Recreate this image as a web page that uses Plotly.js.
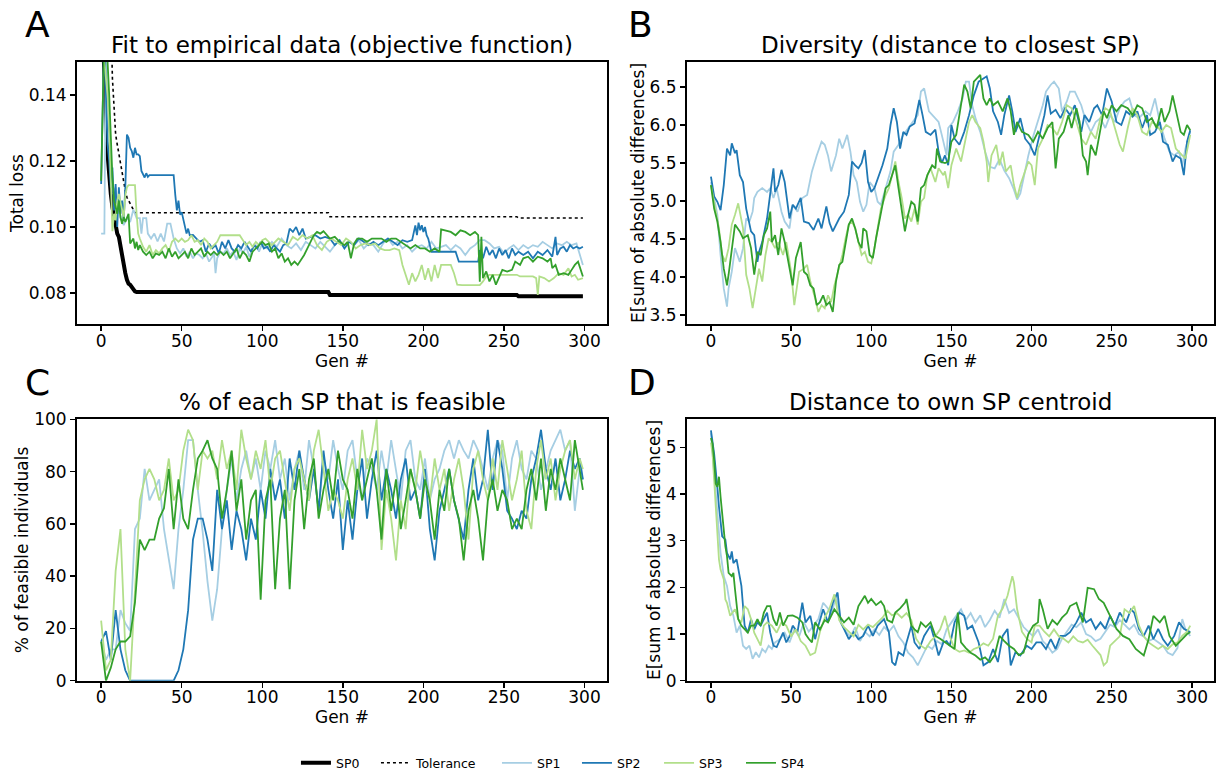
<!DOCTYPE html>
<html><head><meta charset="utf-8">
<script src="https://cdn.plot.ly/plotly-3.0.1.min.js"></script>
<style>html,body{margin:0;padding:0;background:#fff}#chart{width:1225px;height:774px}</style>
</head><body><div id="chart"></div>
<script>
// ---------- Panel A: Fit to empirical data (total loss) ----------
const A_SP0 = [[0,0.17],[2,0.15],[3,0.135],[4,0.122],[5,0.115],[6,0.11],[7,0.106],[8,0.103],[9,0.100],[10,0.098],[11,0.097],[12,0.094],[13,0.091],[14,0.088],[15,0.086],[16,0.084],[17,0.0828],[18,0.0825],[19,0.0818],[20,0.0812],[21,0.0805],[22,0.0803],[141,0.0803],[142,0.0794],[258,0.0794],[259,0.0790],[299,0.0790]];
const A_TOL = [[0,0.22],[6,0.165],[7,0.145],[8,0.135],[9,0.128],[10,0.125],[11,0.122],[12,0.120],[13,0.117],[14,0.113],[15,0.111],[16,0.109],[17,0.108],[18,0.107],[19,0.1065],[20,0.105],[21,0.1043],[141,0.1043],[142,0.1031],[258,0.1031],[259,0.1027],[299,0.1027]];
const A_SP1 = [[0,0.098],[1,0.098],[2,0.098],[3,0.16],[4,0.13],[5,0.125],[6,0.12],[7,0.115],[8,0.11],[9,0.112],[10,0.104],[11,0.108],[12,0.1027],[14,0.1006],[16,0.1027],[18,0.1015],[20,0.1053],[22,0.1027],[24,0.1027],[25,0.098],[26,0.1027],[28,0.1027],[29,0.098],[31,0.0965],[33,0.098],[35,0.0956],[37,0.098],[39,0.0956],[41,0.101],[43,0.101],[45,0.0965],[47,0.0935],[49,0.092],[51,0.0935],[53,0.091],[55,0.0925],[57,0.0905],[59,0.092],[61,0.0915],[63,0.0905],[65,0.092],[67,0.0895],[69,0.091],[70,0.0925],[71,0.086],[72,0.0905],[74,0.0925],[76,0.092],[78,0.0935],[80,0.0915],[82,0.0925],[84,0.090],[86,0.0935],[88,0.092],[90,0.094],[92,0.091],[94,0.0935],[96,0.0945],[98,0.0925],[100,0.095],[103,0.0935],[106,0.0955],[109,0.094],[112,0.0965],[115,0.0945],[118,0.0935],[121,0.095],[124,0.093],[127,0.0955],[130,0.0945],[133,0.0935],[136,0.0955],[139,0.094],[142,0.0925],[145,0.0945],[148,0.096],[151,0.0935],[154,0.0955],[157,0.0945],[160,0.096],[163,0.0935],[166,0.095],[169,0.0945],[172,0.0925],[175,0.095],[178,0.0965],[181,0.0945],[184,0.0955],[187,0.0935],[190,0.0945],[193,0.0925],[196,0.094],[199,0.0945],[202,0.0935],[205,0.0955],[208,0.0935],[211,0.094],[214,0.0945],[217,0.093],[220,0.0945],[223,0.0935],[226,0.0915],[229,0.0935],[232,0.0945],[235,0.096],[238,0.096],[241,0.095],[244,0.0935],[247,0.094],[250,0.092],[253,0.0935],[256,0.0945],[259,0.093],[262,0.0945],[265,0.0935],[268,0.0945],[271,0.094],[274,0.0955],[277,0.0945],[280,0.0935],[283,0.095],[286,0.0945],[289,0.0955],[292,0.0945],[295,0.095],[297,0.092],[299,0.0885]];
const A_SP2 = [[0,0.113],[1,0.16],[2,0.16],[3,0.14],[4,0.125],[5,0.12],[6,0.112],[7,0.118],[8,0.105],[9,0.113],[10,0.10],[11,0.112],[12,0.104],[13,0.108],[14,0.102],[15,0.112],[16,0.128],[17,0.127],[18,0.124],[19,0.123],[20,0.121],[21,0.124],[22,0.122],[23,0.122],[24,0.1215],[25,0.117],[26,0.1158],[27,0.115],[28,0.1163],[29,0.1152],[30,0.1157],[45,0.1157],[46,0.1098],[47,0.105],[48,0.108],[49,0.1037],[50,0.1045],[51,0.102],[52,0.100],[53,0.098],[54,0.0995],[55,0.0975],[57,0.0976],[59,0.0965],[61,0.0955],[63,0.096],[65,0.0925],[67,0.095],[69,0.0935],[71,0.0945],[73,0.092],[75,0.0955],[77,0.0935],[79,0.096],[81,0.0935],[83,0.0925],[85,0.0945],[87,0.0935],[89,0.0955],[91,0.094],[93,0.0925],[95,0.0945],[97,0.0935],[99,0.0955],[101,0.0935],[103,0.094],[105,0.0925],[107,0.0945],[109,0.0935],[111,0.0925],[113,0.0945],[115,0.095],[117,0.0995],[119,0.0985],[121,0.1],[123,0.0975],[125,0.0995],[127,0.0965],[130,0.097],[133,0.0975],[136,0.0965],[139,0.097],[142,0.0965],[145,0.0945],[148,0.096],[151,0.0935],[154,0.0955],[157,0.0945],[160,0.0965],[163,0.0955],[166,0.0945],[169,0.0955],[172,0.0945],[175,0.0955],[178,0.0965],[181,0.0955],[184,0.0945],[187,0.096],[190,0.0955],[193,0.096],[195,0.1005],[196,0.0975],[197,0.1013],[198,0.099],[199,0.1005],[200,0.0985],[201,0.1],[202,0.0975],[203,0.0965],[205,0.0925],[210,0.0925],[215,0.0925],[220,0.0925],[222,0.0895],[228,0.0895],[234,0.0895],[235,0.093],[237,0.0905],[239,0.094],[241,0.0915],[243,0.093],[245,0.0905],[247,0.0935],[249,0.0915],[251,0.093],[253,0.0905],[255,0.0935],[257,0.0915],[259,0.0925],[262,0.0915],[265,0.0925],[268,0.0905],[271,0.0925],[274,0.0915],[277,0.093],[280,0.091],[282,0.097],[283,0.0915],[285,0.0935],[287,0.094],[289,0.0925],[291,0.0945],[293,0.0935],[295,0.094],[297,0.0935],[299,0.094]];
const A_SP3 = [[0,0.16],[1,0.16],[2,0.15],[3,0.145],[4,0.14],[5,0.13],[6,0.11],[7,0.0987],[8,0.104],[9,0.102],[10,0.108],[11,0.11],[12,0.1075],[13,0.105],[14,0.103],[15,0.1095],[16,0.112],[17,0.1127],[19,0.1127],[21,0.1127],[22,0.104],[23,0.098],[24,0.0965],[26,0.094],[28,0.0925],[30,0.0945],[32,0.0915],[34,0.093],[36,0.092],[38,0.0935],[40,0.0945],[42,0.0925],[44,0.0955],[46,0.0965],[48,0.0955],[50,0.0965],[52,0.0955],[54,0.096],[56,0.0975],[58,0.0955],[60,0.096],[62,0.0945],[64,0.0965],[66,0.0955],[68,0.0935],[70,0.0945],[72,0.0955],[74,0.0975],[78,0.0975],[82,0.0975],[86,0.0975],[88,0.096],[90,0.0945],[92,0.0955],[94,0.094],[96,0.0955],[98,0.0945],[100,0.096],[102,0.0965],[104,0.0955],[106,0.0945],[108,0.0955],[110,0.0965],[113,0.0955],[116,0.0945],[119,0.097],[122,0.096],[125,0.0975],[128,0.0965],[131,0.0975],[134,0.0945],[137,0.093],[140,0.0955],[143,0.0965],[146,0.0955],[149,0.0945],[152,0.0965],[155,0.0955],[158,0.0935],[161,0.0945],[164,0.095],[167,0.0945],[170,0.095],[173,0.0935],[176,0.093],[179,0.093],[182,0.0935],[185,0.093],[187,0.0885],[189,0.0855],[191,0.0825],[193,0.086],[195,0.0835],[197,0.0855],[199,0.0885],[201,0.084],[203,0.0875],[205,0.0835],[207,0.0885],[209,0.0845],[211,0.0885],[214,0.0885],[217,0.0885],[219,0.086],[221,0.0825],[224,0.0824],[228,0.0824],[232,0.0824],[235,0.0824],[237,0.0835],[239,0.085],[241,0.0855],[245,0.0855],[250,0.0855],[254,0.0855],[258,0.0855],[260,0.085],[264,0.085],[268,0.085],[270,0.0845],[271,0.0794],[272,0.085],[275,0.0845],[278,0.0835],[281,0.0845],[284,0.086],[287,0.0855],[290,0.0875],[292,0.085],[294,0.0855],[296,0.084],[299,0.0845]];
const A_SP4 = [[0,0.114],[1,0.16],[2,0.16],[3,0.155],[4,0.15],[5,0.14],[6,0.125],[7,0.115],[8,0.108],[9,0.106],[10,0.104],[11,0.108],[12,0.103],[13,0.101],[14,0.103],[15,0.1015],[16,0.103],[17,0.104],[18,0.095],[19,0.096],[20,0.0965],[21,0.0935],[22,0.0955],[23,0.093],[24,0.0945],[26,0.0925],[28,0.0915],[30,0.0925],[32,0.0905],[34,0.092],[36,0.0915],[38,0.0925],[40,0.0905],[42,0.0935],[44,0.091],[46,0.0925],[48,0.0905],[50,0.0915],[52,0.0925],[54,0.0905],[56,0.0935],[58,0.0915],[60,0.0925],[62,0.0935],[64,0.091],[66,0.0925],[68,0.0915],[70,0.0925],[72,0.0915],[74,0.0925],[76,0.0915],[78,0.0925],[80,0.0905],[82,0.092],[84,0.0935],[86,0.0905],[88,0.0925],[90,0.0915],[92,0.0895],[94,0.0925],[96,0.0935],[98,0.0945],[100,0.0955],[102,0.0945],[104,0.095],[106,0.0925],[108,0.0935],[110,0.0905],[112,0.092],[114,0.0895],[116,0.0905],[118,0.0885],[120,0.0895],[122,0.0885],[124,0.09],[126,0.0915],[128,0.0935],[130,0.0955],[132,0.0975],[134,0.0985],[136,0.098],[138,0.0987],[140,0.0975],[142,0.0965],[145,0.097],[148,0.0955],[151,0.0945],[153,0.0955],[155,0.0905],[157,0.095],[159,0.0965],[162,0.0965],[165,0.0955],[168,0.0965],[171,0.0965],[174,0.0965],[177,0.0955],[180,0.0965],[183,0.0965],[186,0.0955],[189,0.0945],[192,0.0935],[195,0.0945],[198,0.0935],[201,0.0935],[204,0.0925],[207,0.0935],[210,0.0925],[211,0.0993],[214,0.099],[217,0.0985],[220,0.0975],[223,0.099],[226,0.0985],[229,0.0975],[232,0.0985],[234,0.0975],[235,0.0834],[236,0.097],[237,0.0845],[239,0.0865],[241,0.0835],[243,0.0855],[245,0.0825],[247,0.0845],[249,0.087],[252,0.0865],[255,0.087],[257,0.0895],[260,0.0885],[262,0.0905],[265,0.091],[268,0.0895],[271,0.091],[274,0.0905],[277,0.0895],[279,0.0905],[280,0.0875],[282,0.0885],[284,0.0855],[287,0.086],[290,0.0855],[292,0.087],[294,0.0885],[296,0.0895],[298,0.086],[299,0.085]];

// ---------- Panel B: Diversity (distance to closest SP) ----------
const B_SP1 = [[0,5.25],[2,5.04],[4,4.82],[6,4.29],[8,3.85],[10,3.61],[11,3.85],[13,4.07],[15,4.38],[18,4.20],[20,4.38],[22,4.77],[24,4.73],[26,4.86],[27,5.04],[29,5.12],[32,5.17],[35,5.12],[37,5.17],[39,5.04],[41,5.17],[44,4.86],[46,4.73],[49,4.64],[51,4.95],[54,4.86],[57,5.04],[60,5.08],[63,5.39],[66,5.60],[69,5.78],[71,5.74],[73,5.60],[75,5.39],[78,5.60],[80,5.82],[82,5.69],[85,5.87],[87,5.65],[89,5.34],[91,5.25],[93,4.99],[95,4.86],[97,4.95],[99,5.25],[102,5.17],[104,4.99],[106,4.95],[109,5.17],[112,5.39],[114,5.65],[117,5.74],[120,5.87],[123,5.96],[126,6.04],[129,6.13],[131,6.44],[133,6.48],[136,6.18],[138,6.13],[142,6.04],[144,5.87],[147,5.60],[148,5.96],[151,6.04],[154,6.18],[157,6.35],[159,6.57],[161,6.57],[163,6.26],[165,6.09],[168,5.91],[171,5.65],[174,5.45],[177,5.43],[180,5.55],[183,5.40],[186,5.30],[189,5.15],[191,5.02],[193,5.10],[195,5.30],[198,5.60],[201,5.85],[204,6.04],[207,6.26],[209,6.44],[212,6.53],[214,6.57],[217,6.48],[219,6.18],[222,6.31],[224,6.44],[227,6.44],[231,6.26],[234,6.04],[237,5.91],[240,6.04],[243,6.09],[246,5.96],[249,6.13],[252,6.04],[255,6.22],[258,6.31],[261,6.35],[264,6.13],[267,6.09],[271,6.18],[274,6.13],[277,6.35],[280,6.04],[283,5.82],[286,5.65],[289,5.60],[292,5.65],[294,5.47],[296,5.69],[299,5.91]];
const B_SP2 = [[0,5.32],[2,5.06],[4,4.99],[6,4.88],[8,5.21],[10,5.69],[12,5.60],[13,5.76],[15,5.63],[16,5.67],[18,5.34],[20,5.25],[22,4.90],[25,4.60],[27,4.55],[29,4.20],[30,4.33],[32,4.46],[35,4.77],[37,5.08],[39,5.43],[40,5.12],[42,5.21],[44,5.41],[46,5.25],[49,4.77],[51,4.95],[53,4.90],[56,5.04],[58,4.73],[61,4.71],[64,4.62],[67,4.77],[69,4.64],[72,4.93],[74,4.71],[76,4.60],[80,4.77],[83,4.86],[86,5.08],[88,5.52],[90,5.47],[92,5.43],[94,5.50],[96,5.67],[98,5.25],[100,5.12],[102,5.17],[104,5.28],[107,5.47],[110,5.69],[112,6.00],[114,6.22],[116,6.04],[118,5.69],[120,5.91],[122,5.87],[124,5.98],[127,6.02],[130,6.33],[132,6.13],[134,5.91],[137,5.87],[140,5.94],[142,5.65],[144,5.50],[146,5.60],[148,5.47],[150,6.00],[152,5.82],[155,5.74],[158,5.91],[161,6.13],[164,6.39],[167,6.57],[170,6.61],[172,6.64],[174,6.48],[176,6.18],[179,6.04],[181,5.87],[183,6.13],[186,6.39],[188,6.18],[190,5.91],[193,6.09],[196,5.82],[199,5.74],[202,5.60],[205,5.87],[208,6.13],[210,6.39],[212,6.15],[215,6.20],[218,6.09],[221,6.22],[224,6.13],[227,6.26],[231,5.91],[233,6.13],[236,6.04],[239,6.22],[241,6.26],[244,6.13],[247,6.48],[250,6.31],[253,6.04],[256,6.00],[259,6.18],[263,6.11],[266,6.18],[269,5.96],[272,6.13],[274,5.87],[277,5.91],[280,6.04],[282,5.78],[285,5.74],[288,5.52],[290,5.60],[293,5.56],[295,5.34],[297,5.78],[299,5.93]];
const B_SP3 = [[0,5.21],[2,4.99],[5,4.64],[7,4.29],[9,4.20],[11,4.38],[13,4.69],[15,4.82],[17,4.97],[20,4.64],[22,4.03],[24,3.85],[26,3.59],[28,3.85],[30,4.11],[32,3.94],[34,4.29],[36,4.51],[38,4.46],[40,4.38],[42,4.46],[45,4.29],[47,4.46],[50,4.07],[52,3.63],[55,4.07],[58,4.11],[60,4.16],[62,3.94],[65,3.72],[67,3.54],[69,3.63],[71,3.59],[73,3.76],[75,3.67],[77,3.89],[80,4.11],[82,4.29],[84,4.51],[86,4.69],[88,4.73],[90,4.64],[92,4.46],[94,4.29],[96,4.33],[98,4.20],[100,4.18],[102,4.38],[104,4.64],[106,4.90],[109,5.08],[111,5.17],[113,5.34],[115,5.52],[117,5.25],[119,5.04],[121,4.77],[123,4.82],[125,4.73],[127,4.90],[129,4.69],[131,4.99],[133,5.04],[135,5.34],[137,5.43],[140,5.25],[142,5.43],[145,5.34],[146,5.39],[148,5.17],[150,5.47],[153,5.69],[156,5.52],[158,5.74],[161,6.04],[163,6.13],[165,6.04],[168,5.96],[170,5.78],[172,5.52],[173,5.25],[175,5.60],[178,5.74],[180,5.47],[182,5.65],[184,5.39],[187,5.47],[189,5.21],[191,5.04],[193,5.21],[195,5.34],[198,5.52],[200,5.47],[202,5.21],[204,5.69],[207,5.82],[210,6.00],[213,5.96],[216,5.87],[219,6.04],[222,6.26],[225,6.22],[228,6.04],[231,5.82],[234,5.74],[237,5.91],[240,5.82],[243,6.09],[246,6.22],[249,6.18],[252,5.96],[255,5.74],[257,5.65],[260,5.96],[263,6.22],[266,6.13],[269,5.91],[272,5.87],[275,6.04],[278,6.00],[281,5.91],[284,6.00],[287,5.96],[290,5.69],[294,5.60],[296,5.56],[299,5.87]];
const B_SP4 = [[0,5.21],[2,4.90],[4,4.73],[6,4.46],[8,4.11],[10,3.89],[11,4.03],[13,4.38],[15,4.69],[18,4.60],[20,4.51],[23,4.55],[25,4.38],[27,4.03],[29,4.33],[31,4.29],[33,4.55],[35,4.64],[37,4.86],[38,4.46],[40,4.55],[42,4.29],[44,4.64],[46,4.46],[49,4.11],[51,3.89],[53,4.25],[56,4.46],[58,4.07],[60,4.03],[62,3.89],[64,3.85],[66,3.63],[68,3.67],[70,3.76],[72,3.63],[74,3.67],[76,3.54],[78,3.94],[80,4.16],[82,4.20],[84,4.46],[86,4.69],[88,4.77],[90,4.64],[92,4.46],[94,4.38],[95,4.64],[97,4.60],[99,4.29],[101,4.25],[103,4.51],[106,4.86],[109,5.17],[111,5.21],[113,5.34],[115,5.47],[117,5.17],[119,4.86],[121,4.60],[123,4.82],[125,4.99],[127,4.95],[129,4.73],[131,5.17],[133,5.21],[135,5.34],[138,5.47],[140,5.43],[141,5.69],[143,5.52],[146,5.50],[148,5.52],[150,5.78],[153,5.87],[156,6.26],[158,6.53],[160,6.44],[162,6.22],[164,6.57],[168,6.66],[170,6.35],[172,6.26],[174,6.35],[176,6.26],[179,6.31],[182,6.18],[185,6.35],[187,6.18],[189,5.87],[191,6.04],[194,5.91],[198,5.87],[201,5.78],[204,5.91],[207,5.82],[210,5.96],[213,6.04],[215,5.43],[217,5.82],[220,5.91],[223,6.13],[225,5.96],[228,6.22],[230,6.04],[232,5.60],[234,5.52],[235,5.34],[237,5.74],[240,5.60],[242,5.82],[245,6.18],[247,6.09],[250,6.26],[253,6.18],[256,6.26],[260,6.22],[263,6.13],[266,6.26],[269,6.22],[272,6.04],[275,6.09],[278,5.96],[281,6.22],[283,6.04],[286,6.18],[288,6.39],[290,6.18],[293,5.91],[295,5.87],[297,6.00],[299,5.93]];

// ---------- Panel C: % of each SP that is feasible ----------
const C_SP1 = [[0,15],[3,8],[6,12],[9,12],[12,27],[15,22],[18,19],[21,58],[24,62],[27,81],[30,69],[33,73],[36,77],[39,58],[42,46],[45,35],[48,58],[51,73],[54,92],[57,92],[60,73],[63,57],[66,38],[69,23],[72,35],[75,58],[78,73],[81,85],[84,69],[87,81],[90,88],[93,77],[96,85],[99,73],[102,88],[105,81],[108,92],[111,77],[114,85],[117,69],[120,81],[123,88],[126,73],[129,92],[132,81],[135,65],[138,85],[141,77],[144,92],[147,81],[150,73],[153,88],[156,92],[159,77],[162,69],[165,85],[168,81],[171,73],[174,88],[177,77],[180,92],[183,81],[186,69],[189,88],[192,92],[195,77],[198,73],[201,85],[204,69],[207,77],[210,81],[213,88],[216,92],[219,85],[222,92],[225,88],[228,85],[231,92],[234,88],[237,81],[240,73],[243,85],[246,92],[249,88],[252,69],[255,85],[258,92],[261,81],[264,77],[267,88],[270,85],[273,73],[276,81],[279,88],[282,92],[285,96],[288,88],[291,92],[294,65],[297,81],[299,77]];
const C_SP2 = [[0,15],[3,19],[6,8],[9,27],[12,12],[15,4],[18,0],[21,0],[24,0],[27,0],[30,0],[33,0],[36,0],[39,0],[42,0],[45,0],[48,4],[51,12],[54,27],[57,54],[60,62],[63,62],[66,54],[69,42],[72,73],[75,58],[78,69],[81,50],[84,65],[87,58],[90,46],[93,62],[96,54],[99,73],[102,62],[105,81],[108,69],[111,77],[114,62],[117,85],[120,73],[123,88],[126,77],[129,69],[132,81],[135,65],[138,88],[141,73],[144,62],[147,77],[150,50],[153,69],[156,54],[159,73],[162,85],[165,62],[168,77],[171,88],[174,69],[177,81],[180,73],[183,62],[186,77],[189,85],[192,69],[195,73],[198,62],[201,81],[204,58],[207,46],[210,65],[213,73],[216,81],[219,69],[222,62],[225,54],[228,73],[231,85],[234,69],[237,77],[240,96],[243,73],[246,92],[249,81],[252,65],[255,62],[258,58],[261,65],[264,62],[267,77],[270,85],[273,96],[276,81],[279,73],[282,85],[285,69],[288,77],[291,88],[294,81],[297,85],[299,77]];
const C_SP3 = [[0,23],[3,4],[6,8],[9,42],[12,58],[15,12],[18,0],[21,35],[24,69],[27,77],[30,81],[33,77],[36,69],[39,73],[42,85],[45,69],[48,73],[51,88],[54,96],[57,92],[60,73],[63,88],[66,85],[69,88],[72,77],[75,92],[78,81],[81,88],[84,73],[87,96],[90,85],[93,77],[96,88],[99,81],[102,92],[105,73],[108,85],[111,88],[114,77],[117,65],[120,81],[123,85],[126,77],[129,69],[132,88],[135,96],[138,81],[141,65],[144,73],[147,69],[150,62],[153,77],[156,85],[159,73],[162,96],[165,81],[168,88],[171,100],[174,50],[177,73],[180,62],[183,46],[186,69],[189,58],[192,81],[195,73],[198,88],[201,77],[204,69],[207,85],[210,73],[213,81],[216,65],[219,77],[222,85],[225,73],[228,54],[231,81],[234,88],[237,77],[240,69],[243,85],[246,73],[249,92],[252,81],[255,69],[258,77],[261,88],[264,65],[267,58],[270,81],[273,92],[276,77],[279,85],[282,69],[285,81],[288,88],[291,92],[294,77],[297,85],[299,81]];
const C_SP4 = [[0,15],[3,0],[6,5],[9,12],[12,15],[15,15],[18,17],[21,30],[24,54],[27,50],[30,54],[33,54],[36,62],[39,66],[42,81],[45,58],[48,77],[51,62],[54,58],[57,73],[60,85],[63,88],[66,92],[69,85],[72,81],[75,62],[78,73],[81,88],[84,65],[87,77],[90,54],[93,69],[96,73],[99,31],[102,69],[105,77],[108,35],[111,62],[114,73],[117,35],[120,69],[123,81],[126,58],[129,77],[132,85],[135,62],[138,73],[141,81],[144,69],[147,88],[150,77],[153,73],[156,62],[159,81],[162,69],[165,77],[168,85],[171,73],[174,54],[177,81],[180,65],[183,77],[186,58],[189,69],[192,81],[195,73],[198,62],[201,77],[204,69],[207,54],[210,73],[213,65],[216,81],[219,69],[222,62],[225,46],[228,65],[231,73],[234,62],[237,46],[240,69],[243,77],[246,65],[249,73],[252,69],[255,58],[258,62],[261,58],[264,73],[267,81],[270,69],[273,85],[276,65],[279,81],[282,73],[285,85],[288,77],[291,69],[294,92],[297,81],[299,73]];

// ---------- Panel D: Distance to own SP centroid ----------
const D_SP1 = [[0,5.30],[2,4.50],[4,3.59],[6,2.74],[8,2.24],[10,2.03],[12,1.60],[14,1.39],[16,1.03],[18,1.18],[20,0.75],[22,0.68],[24,0.75],[26,0.47],[28,0.61],[30,0.50],[32,0.68],[34,0.61],[36,0.75],[38,0.68],[40,0.82],[43,0.89],[46,1.03],[49,0.82],[52,1.10],[55,0.95],[58,1.25],[61,1.05],[64,1.18],[67,1.32],[70,1.67],[73,1.55],[75,1.40],[78,1.82],[81,1.25],[84,1.05],[87,0.95],[90,1.15],[93,0.85],[96,1.05],[99,0.95],[102,1.10],[105,0.98],[108,1.15],[111,1.05],[114,1.18],[117,0.95],[120,0.82],[123,0.60],[126,0.50],[129,0.33],[132,0.55],[135,0.75],[138,0.68],[141,0.85],[144,0.78],[147,1.10],[150,1.25],[153,1.40],[156,1.53],[159,1.30],[162,1.45],[165,1.25],[168,1.40],[171,1.15],[174,1.30],[177,1.50],[180,1.35],[183,1.75],[186,1.45],[189,1.53],[192,1.35],[195,1.15],[198,1.05],[201,0.95],[204,1.10],[207,0.85],[210,0.75],[213,0.60],[216,0.68],[219,0.90],[222,1.05],[225,1.20],[228,1.15],[231,1.25],[234,1.00],[237,0.95],[240,0.85],[243,0.90],[246,1.05],[249,1.20],[252,1.15],[255,1.30],[258,1.20],[261,1.10],[264,1.20],[267,1.00],[270,0.95],[273,0.85],[276,0.90],[279,0.82],[282,0.75],[285,0.60],[288,0.55],[291,0.70],[294,1.32],[296,1.10],[299,0.96]];
const D_SP2 = [[0,5.36],[2,4.86],[4,4.15],[5,3.73],[7,3.09],[9,3.02],[10,2.74],[12,2.60],[13,2.77],[14,2.52],[16,2.60],[18,2.24],[19,2.03],[20,1.60],[21,1.18],[23,1.03],[25,1.32],[27,1.10],[29,1.25],[31,1.18],[33,1.32],[35,1.46],[37,1.03],[39,0.75],[41,0.72],[43,0.89],[45,1.03],[47,0.82],[49,0.95],[51,1.18],[54,1.04],[57,1.67],[59,1.25],[62,1.39],[65,0.89],[67,1.18],[70,1.53],[73,1.25],[76,1.67],[79,1.89],[81,1.25],[83,1.11],[86,0.89],[89,1.04],[92,0.89],[95,0.96],[98,1.18],[101,0.96],[104,1.18],[108,1.32],[111,1.04],[113,0.40],[115,0.33],[117,0.61],[120,0.54],[122,0.82],[125,1.18],[127,0.82],[130,0.68],[133,0.96],[137,1.18],[140,0.82],[142,0.54],[145,0.82],[147,0.85],[149,0.75],[152,1.25],[155,1.46],[158,1.39],[160,1.11],[163,1.18],[167,0.82],[170,0.33],[173,0.40],[176,0.68],[179,0.40],[182,0.96],[185,1.11],[187,0.33],[190,0.61],[193,0.54],[197,0.75],[200,0.68],[203,0.82],[206,0.82],[209,0.68],[212,0.89],[215,0.68],[218,0.96],[221,0.96],[224,1.04],[228,1.25],[231,1.46],[234,1.25],[237,1.32],[240,1.11],[243,1.25],[246,1.11],[249,1.39],[252,1.18],[255,1.46],[259,1.25],[262,1.53],[264,1.46],[267,1.11],[270,0.96],[273,1.18],[276,0.89],[279,1.11],[282,0.89],[285,0.75],[289,0.96],[292,1.25],[295,1.11],[299,1.04]];
const D_SP3 = [[0,5.10],[1,4.86],[2,4.30],[3,3.73],[4,3.16],[5,2.60],[6,2.38],[8,2.17],[9,1.74],[10,1.67],[12,1.39],[15,1.53],[17,1.32],[19,1.25],[21,1.60],[23,1.53],[25,1.32],[27,1.03],[29,0.89],[31,0.75],[33,1.18],[35,1.25],[38,1.18],[41,1.03],[44,1.25],[47,1.18],[50,0.95],[53,1.10],[56,0.85],[59,0.75],[62,0.55],[65,0.60],[68,1.05],[71,1.35],[74,1.55],[77,1.85],[80,1.30],[83,1.15],[86,1.05],[89,0.95],[92,1.20],[95,1.10],[98,1.20],[101,1.15],[104,1.25],[107,1.35],[110,1.50],[113,1.40],[116,1.45],[119,1.35],[122,1.45],[125,1.30],[128,0.90],[131,0.75],[134,0.68],[137,0.85],[140,0.95],[143,1.10],[146,1.39],[149,0.95],[152,0.68],[155,0.62],[158,0.65],[161,0.60],[164,0.68],[167,0.72],[170,0.80],[173,0.75],[176,0.90],[179,1.39],[182,1.55],[185,1.82],[188,2.24],[189,2.10],[191,1.53],[194,1.05],[197,0.90],[200,0.82],[202,1.18],[205,1.18],[208,1.05],[211,0.95],[214,1.10],[217,0.95],[220,0.90],[223,0.82],[226,0.95],[229,0.85],[232,0.82],[235,0.88],[238,0.75],[241,0.62],[243,0.55],[245,0.33],[247,0.40],[249,0.75],[252,0.85],[255,0.95],[258,1.53],[261,1.45],[264,1.60],[267,1.18],[270,0.95],[273,0.82],[276,0.75],[279,0.68],[282,0.75],[285,0.68],[288,0.78],[291,0.82],[294,0.96],[297,1.05],[299,1.18]];
const D_SP4 = [[0,5.20],[1,5.08],[2,4.72],[3,4.22],[4,4.15],[5,4.37],[6,3.94],[7,3.59],[8,3.09],[9,2.88],[10,2.67],[11,2.31],[13,2.24],[14,2.31],[15,1.96],[16,1.60],[17,1.32],[19,1.18],[21,1.10],[23,1.03],[25,1.18],[27,1.18],[29,1.32],[31,1.18],[33,1.46],[35,1.60],[37,1.60],[39,1.32],[41,1.18],[43,1.46],[45,1.18],[48,1.39],[51,1.40],[54,1.35],[57,1.25],[59,1.00],[61,0.90],[63,0.82],[65,1.25],[68,1.10],[71,1.30],[73,1.25],[77,1.53],[80,1.40],[83,1.25],[86,1.35],[89,1.20],[92,1.60],[95,1.75],[96,1.82],[98,1.67],[100,1.75],[103,1.62],[106,1.70],[108,1.60],[110,1.30],[113,1.25],[115,1.46],[118,1.55],[121,1.67],[122,1.75],[125,1.18],[127,1.10],[129,1.04],[131,1.25],[134,1.15],[137,1.25],[140,0.96],[143,0.90],[146,0.82],[149,0.75],[152,0.68],[154,1.46],[156,0.82],[159,0.70],[162,0.60],[165,0.54],[168,0.45],[171,0.50],[174,0.40],[177,0.55],[180,0.96],[183,0.85],[186,0.75],[189,0.68],[192,0.55],[195,0.60],[198,1.00],[201,1.18],[204,1.25],[205,1.75],[207,1.53],[210,1.11],[213,1.30],[216,1.20],[219,1.35],[222,1.45],[224,1.60],[228,1.67],[232,1.25],[235,1.99],[239,1.96],[242,1.75],[245,1.67],[249,1.39],[253,1.11],[257,0.96],[261,0.89],[265,0.68],[270,0.54],[273,0.89],[276,1.39],[280,1.25],[283,1.39],[286,0.96],[290,0.75],[294,0.89],[297,1.00],[299,1.04]];

const SERIES_NAMES = ['SP1','SP2','SP3','SP4'];
const SERIES_COLORS = ['#a6cee3','#1f78b4','#b2df8a','#33a02c'];
const PANEL_TITLES = ['Fit to empirical data (objective function)','Diversity (distance to closest SP)','% of each SP that is feasible','Distance to own SP centroid'];
const PANEL_LETTERS = ['A','B','C','D'];
const Y_LABELS = ['Total loss','E[sum of absolute differences]','% of feasible individuals','E[sum of absolute differences]'];
const X_LABEL = 'Gen #';
const X_TICKS = [0,50,100,150,200,250,300];

const FONT = 'DejaVu Sans, Liberation Sans, sans-serif';
const xs = p => p.map(d => d[0]);
const ys = p => p.map(d => d[1]);

// one legend per entry, placed like the reference's single-row legend
const LEGEND_IDS = ['legend','legend2','legend3','legend4','legend5','legend6'];
const LEGEND_X = [0.2416, 0.3069, 0.4057, 0.4710, 0.5380, 0.6049];

const traces = [];
traces.push({x: xs(A_SP0), y: ys(A_SP0), name: 'SP0', mode: 'lines', line: {color: '#000', width: 4}, xaxis: 'x', yaxis: 'y', legend: LEGEND_IDS[0]});
traces.push({x: xs(A_TOL), y: ys(A_TOL), name: 'Tolerance', mode: 'lines', line: {color: '#000', width: 1.6, dash: 'dot'}, xaxis: 'x', yaxis: 'y', legend: LEGEND_IDS[1]});
const panels = [[A_SP1,A_SP2,A_SP3,A_SP4],[B_SP1,B_SP2,B_SP3,B_SP4],[C_SP1,C_SP2,C_SP3,C_SP4],[D_SP1,D_SP2,D_SP3,D_SP4]];
const axSuffix = ['', '2', '3', '4'];
panels.forEach((ser, pi) => {
  ser.forEach((s, si) => {
    traces.push({x: xs(s), y: ys(s), name: SERIES_NAMES[si], mode: 'lines',
      line: {color: SERIES_COLORS[si], width: 1.8},
      xaxis: 'x' + axSuffix[pi], yaxis: 'y' + axSuffix[pi],
      legend: LEGEND_IDS[si + 2], legendgroup: SERIES_NAMES[si], showlegend: pi === 0});
  });
});

const xDom = [[0.0629, 0.4955], [0.5608, 0.9912]];
const yDom = [[0.5810, 0.9203], [0.1205, 0.4583]];
const yRanges = [[0.0705, 0.1501], [3.378, 6.833], [0, 100], [0, 5.6]];
const yTicks = [[0.08,0.10,0.12,0.14],[3.5,4.0,4.5,5.0,5.5,6.0,6.5],[0,20,40,60,80,100],[0,1,2,3,4,5]];
const yFormats = ['.2f', '.1f', '', ''];

const layout = {
  width: 1225, height: 774, margin: {l: 0, r: 0, t: 0, b: 0, autoexpand: false},
  paper_bgcolor: '#fff', plot_bgcolor: '#fff',
  font: {family: FONT, color: '#000', size: 17},
  showlegend: true,
  annotations: []
};
LEGEND_IDS.forEach((id, i) => {
  layout[id] = {orientation: 'h', x: LEGEND_X[i], xanchor: 'left', y: 0.014, yanchor: 'middle',
    font: {size: 12.5, family: FONT, color: '#000'}, itemwidth: 30, bgcolor: 'rgba(0,0,0,0)'};
});
for (let pi = 0; pi < 4; pi++) {
  const col = pi % 2, row = Math.floor(pi / 2);
  const s = axSuffix[pi];
  layout['xaxis' + s] = {
    domain: xDom[col], anchor: 'y' + s, range: [-14.95, 313.95],
    tickvals: X_TICKS, ticks: 'outside', ticklen: 5, tickwidth: 1.5, tickcolor: '#000',
    ticklabelstandoff: -5,
    showline: true, linecolor: '#000', linewidth: 2, mirror: true,
    showgrid: false, zeroline: false, automargin: false,
    tickfont: {size: 17, family: FONT, color: '#000'},
    title: {text: X_LABEL, font: {size: 17, family: FONT, color: '#000'}, standoff: 0}
  };
  layout['yaxis' + s] = {
    domain: yDom[row], anchor: 'x' + s, range: yRanges[pi],
    tickvals: yTicks[pi], tickformat: yFormats[pi], ticks: 'outside', ticklen: 5, tickwidth: 1.5, tickcolor: '#000',
    showline: true, linecolor: '#000', linewidth: 2, mirror: true,
    showgrid: false, zeroline: false, automargin: false,
    tickfont: {size: 17, family: FONT, color: '#000'},
    title: {text: Y_LABELS[pi], font: {size: 17, family: FONT, color: '#000'}, standoff: 1}
  };
  const xc = (xDom[col][0] + xDom[col][1]) / 2;
  layout.annotations.push({text: PANEL_TITLES[pi], xref: 'paper', yref: 'paper', x: xc, y: yDom[row][1], yanchor: 'bottom', xanchor: 'center', yshift: 2, showarrow: false, font: {size: 23, family: FONT, color: '#000'}});
  layout.annotations.push({text: PANEL_LETTERS[pi], xref: 'paper', yref: 'paper', x: col === 0 ? 0.019 : 0.511, y: row === 0 ? 0.997 : 0.535, xanchor: 'left', yanchor: 'top', showarrow: false, font: {size: 36, family: FONT, color: '#000'}});
}
Plotly.newPlot('chart', traces, layout, {displayModeBar: false, staticPlot: true});
</script>
</body></html>
